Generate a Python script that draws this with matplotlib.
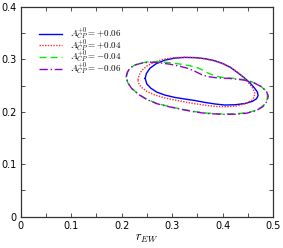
import matplotlib
matplotlib.use("Agg")
import matplotlib.pyplot as plt
from matplotlib.ticker import MultipleLocator, FuncFormatter

plt.rcParams['mathtext.fontset'] = 'cm'
plt.rcParams['font.family'] = ['DejaVu Sans']

labels = [r"$A_{CP}^{+0}=+0.06$", r"$A_{CP}^{+0}=+0.04$",
          r"$A_{CP}^{+0}=-0.04$", r"$A_{CP}^{+0}=-0.06$"]

# contour for A=+0.06
x_p06 = [0.2467, 0.2490, 0.2560, 0.2680, 0.2850, 0.3055, 0.3250, 0.3452, 0.3650, 0.3848,
         0.4010, 0.4160, 0.4309, 0.4430, 0.4530, 0.4620, 0.4690, 0.4705, 0.4673, 0.4590,
         0.4450, 0.4260, 0.4046, 0.3850, 0.3650, 0.3452, 0.3250, 0.3055, 0.2857, 0.2700,
         0.2580, 0.2500]
y_p06 = [0.2639, 0.2730, 0.2830, 0.2915, 0.2985, 0.3025, 0.3038, 0.3034, 0.3015, 0.2975,
         0.2920, 0.2845, 0.2740, 0.2650, 0.2565, 0.2470, 0.2380, 0.2310, 0.2250, 0.2200,
         0.2160, 0.2136, 0.2130, 0.2150, 0.2180, 0.2216, 0.2245, 0.2275, 0.2320, 0.2375,
         0.2450, 0.2530]

# contour for A=+0.04
x_p04 = [0.2323, 0.2345, 0.2400, 0.2501, 0.2650, 0.2850, 0.3055, 0.3250, 0.3452, 0.3650,
         0.3848, 0.4010, 0.4160, 0.4300, 0.4420, 0.4510, 0.4590, 0.4635, 0.4630, 0.4580,
         0.4460, 0.4300, 0.4100, 0.3900, 0.3700, 0.3452, 0.3250, 0.3055, 0.2857, 0.2650,
         0.2500, 0.2390, 0.2340]
y_p04 = [0.2608, 0.2700, 0.2790, 0.2875, 0.2950, 0.3010, 0.3036, 0.3042, 0.3036, 0.3010,
         0.2968, 0.2915, 0.2850, 0.2755, 0.2660, 0.2560, 0.2460, 0.2370, 0.2290, 0.2220,
         0.2160, 0.2115, 0.2098, 0.2100, 0.2120, 0.2155, 0.2190, 0.2225, 0.2265, 0.2325,
         0.2390, 0.2470, 0.2540]

# contour for A=-0.04
x_m04 = [0.2095, 0.2120, 0.2170, 0.2260, 0.2400, 0.2560, 0.2750, 0.2950, 0.3150, 0.3350,
         0.3500, 0.3600, 0.3700, 0.3848, 0.4000, 0.4200, 0.4442, 0.4600, 0.4740, 0.4840,
         0.4890, 0.4885, 0.4830, 0.4700, 0.4500, 0.4250, 0.3986, 0.3700, 0.3450, 0.3200,
         0.2950, 0.2700, 0.2500, 0.2330, 0.2200, 0.2120]
y_m04 = [0.2671, 0.2760, 0.2835, 0.2893, 0.2935, 0.2958, 0.2955, 0.2938, 0.2912, 0.2880,
         0.2845, 0.2800, 0.2745, 0.2685, 0.2655, 0.2640, 0.2614, 0.2565, 0.2500, 0.2420,
         0.2330, 0.2240, 0.2140, 0.2040, 0.1985, 0.1962, 0.1960, 0.1975, 0.2005, 0.2050,
         0.2100, 0.2160, 0.2240, 0.2340, 0.2450, 0.2560]

# contour for A=-0.06
x_m06 = [0.2090, 0.2115, 0.2165, 0.2255, 0.2400, 0.2560, 0.2750, 0.2950, 0.3150, 0.3313,
         0.3450, 0.3584, 0.3720, 0.3900, 0.4145, 0.4442, 0.4620, 0.4770, 0.4870, 0.4907,
         0.4880, 0.4800, 0.4660, 0.4480, 0.4250, 0.3986, 0.3700, 0.3450, 0.3200, 0.2950,
         0.2700, 0.2500, 0.2330, 0.2200, 0.2120]
y_m06 = [0.2671, 0.2760, 0.2835, 0.2890, 0.2930, 0.2948, 0.2935, 0.2910, 0.2870, 0.2830,
         0.2775, 0.2710, 0.2670, 0.2648, 0.2637, 0.2604, 0.2555, 0.2480, 0.2390, 0.2300,
         0.2200, 0.2100, 0.2020, 0.1975, 0.1955, 0.1953, 0.1968, 0.1998, 0.2045, 0.2095,
         0.2155, 0.2235, 0.2335, 0.2445, 0.2558]

series = [(x_p06, y_p06), (x_p04, y_p04), (x_m04, y_m04), (x_m06, y_m06)]
colors = ['#0000ff', '#ff3030', '#00ee00', '#9400d3']
styles = ['-', (0, (1, 1)), (0, (5, 3)), (0, (6, 2, 1, 2))]

fig = plt.figure(figsize=(2.83, 2.48), dpi=100)
ax = fig.add_axes([0.0731, 0.1262, 0.8916, 0.8456])

for (xs, ys), c, ls, lab in zip(series, colors, styles, labels):
    ax.plot(list(xs) + [xs[0]], list(ys) + [ys[0]], color=c, ls=ls, lw=1.0, label=lab)

ax.set_xlim(0, 0.5)
ax.set_ylim(0, 0.4)
ax.xaxis.set_major_locator(MultipleLocator(0.1))
ax.xaxis.set_minor_locator(MultipleLocator(0.05))
ax.yaxis.set_major_locator(MultipleLocator(0.1))
ax.yaxis.set_minor_locator(MultipleLocator(0.05))
fmt = FuncFormatter(lambda v, p: "0" if abs(v) < 1e-9 else f"{v:.1f}")
ax.xaxis.set_major_formatter(fmt)
ax.yaxis.set_major_formatter(fmt)
ax.tick_params(which='both', direction='in', top=True, right=True, labelsize=7, pad=3,
               color='#333333')
ax.tick_params(which='major', length=3, width=0.6)
ax.tick_params(which='minor', length=3, width=0.6)
for s in ax.spines.values():
    s.set_linewidth(0.9)
    s.set_color('#333333')

ax.set_xlabel(r"$r_{EW}$", fontsize=9, labelpad=1)

leg = ax.legend(loc='upper left', bbox_to_anchor=(0.06, 0.93), frameon=False, fontsize=6.5,
                handlelength=2.45, handletextpad=0.9, labelspacing=-0.53, borderaxespad=0)

fig.savefig("out.png", dpi=100)
